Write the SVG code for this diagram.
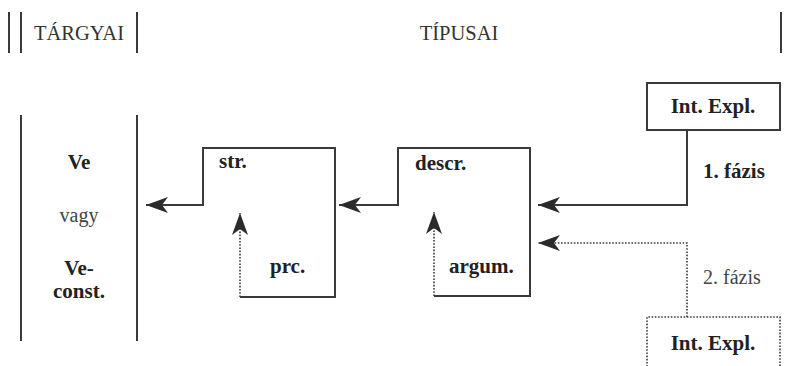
<svg xmlns="http://www.w3.org/2000/svg" width="792" height="366" viewBox="0 0 792 366">
<defs>
<marker id="ah" markerUnits="userSpaceOnUse" markerWidth="24" markerHeight="18" viewBox="0 0 24 18" refX="23" refY="9" orient="auto">
<path d="M23,9 L1,1 L7,9 L1,17 Z" fill="#2b2b2b"/>
</marker>
<style>
.ln{stroke:#3a3a3a;stroke-width:2;fill:none}
.dt{stroke:#3a3a3a;stroke-width:1.6;fill:none;stroke-dasharray:1.6 1.6}
text{font-family:'Liberation Serif','Times New Roman',serif;fill:#222}
.b{font-weight:bold;font-size:21px}
.n{font-size:20px;fill:#444}
.h{font-size:20.5px;fill:#333}
</style>
</defs>
<g id="header">
<line class="ln" x1="9" y1="12" x2="9" y2="53"/>
<line class="ln" x1="21" y1="12" x2="21" y2="53"/>
<line class="ln" x1="137" y1="12" x2="137" y2="53"/>
<line class="ln" x1="781" y1="12" x2="781" y2="53"/>
<text class="h" x="79" y="40" text-anchor="middle">TÁRGYAI</text>
<text class="h" x="459" y="40" text-anchor="middle">TÍPUSAI</text>
</g>
<g id="targyai">
<line class="ln" x1="21" y1="115" x2="21" y2="341"/>
<line class="ln" x1="137" y1="115" x2="137" y2="341"/>
<text class="b" x="79" y="169" text-anchor="middle">Ve</text>
<text class="n" x="79" y="222" text-anchor="middle">vagy</text>
<text class="b" x="79" y="275" text-anchor="middle">Ve-</text>
<text class="b" x="79" y="298" text-anchor="middle">const.</text>
</g>
<g id="str-box">
<text class="b" x="219" y="168">str.</text>
<text class="b" x="270" y="273">prc.</text>
</g>
<g id="descr-box">
<text class="b" x="415" y="170">descr.</text>
<text class="b" x="449" y="273">argum.</text>
</g>
<g id="int-expl-1">
<rect class="ln" x="647" y="83" width="133" height="47"/>
<text class="b" x="713" y="113" text-anchor="middle">Int. Expl.</text>
</g>
<g id="int-expl-2">
<path class="dt" d="M647,370 L647,317 L780,317 L780,370"/>
<text class="b" x="713" y="350" text-anchor="middle">Int. Expl.</text>
</g>
<g id="labels">
<text class="b" x="703" y="178">1. fázis</text>
<text class="n" x="703" y="284">2. fázis</text>
</g>
<g id="connectors">
<path class="ln" d="M240,297 L335,297 L335,148 L203,148 L203,205 L146,205" marker-end="url(#ah)"/>
<path class="dt" d="M240,297 L240,213" marker-end="url(#ah)"/>
<path class="ln" d="M434,296 L530,296 L530,148 L398,148 L398,205 L339,205" marker-end="url(#ah)"/>
<path class="dt" d="M434,296 L434,212" marker-end="url(#ah)"/>
<path class="ln" d="M687,130 L687,205 L538,205" marker-end="url(#ah)"/>
<path class="dt" d="M687,317 L687,243 L538,243" marker-end="url(#ah)"/>
</g>
</svg>
